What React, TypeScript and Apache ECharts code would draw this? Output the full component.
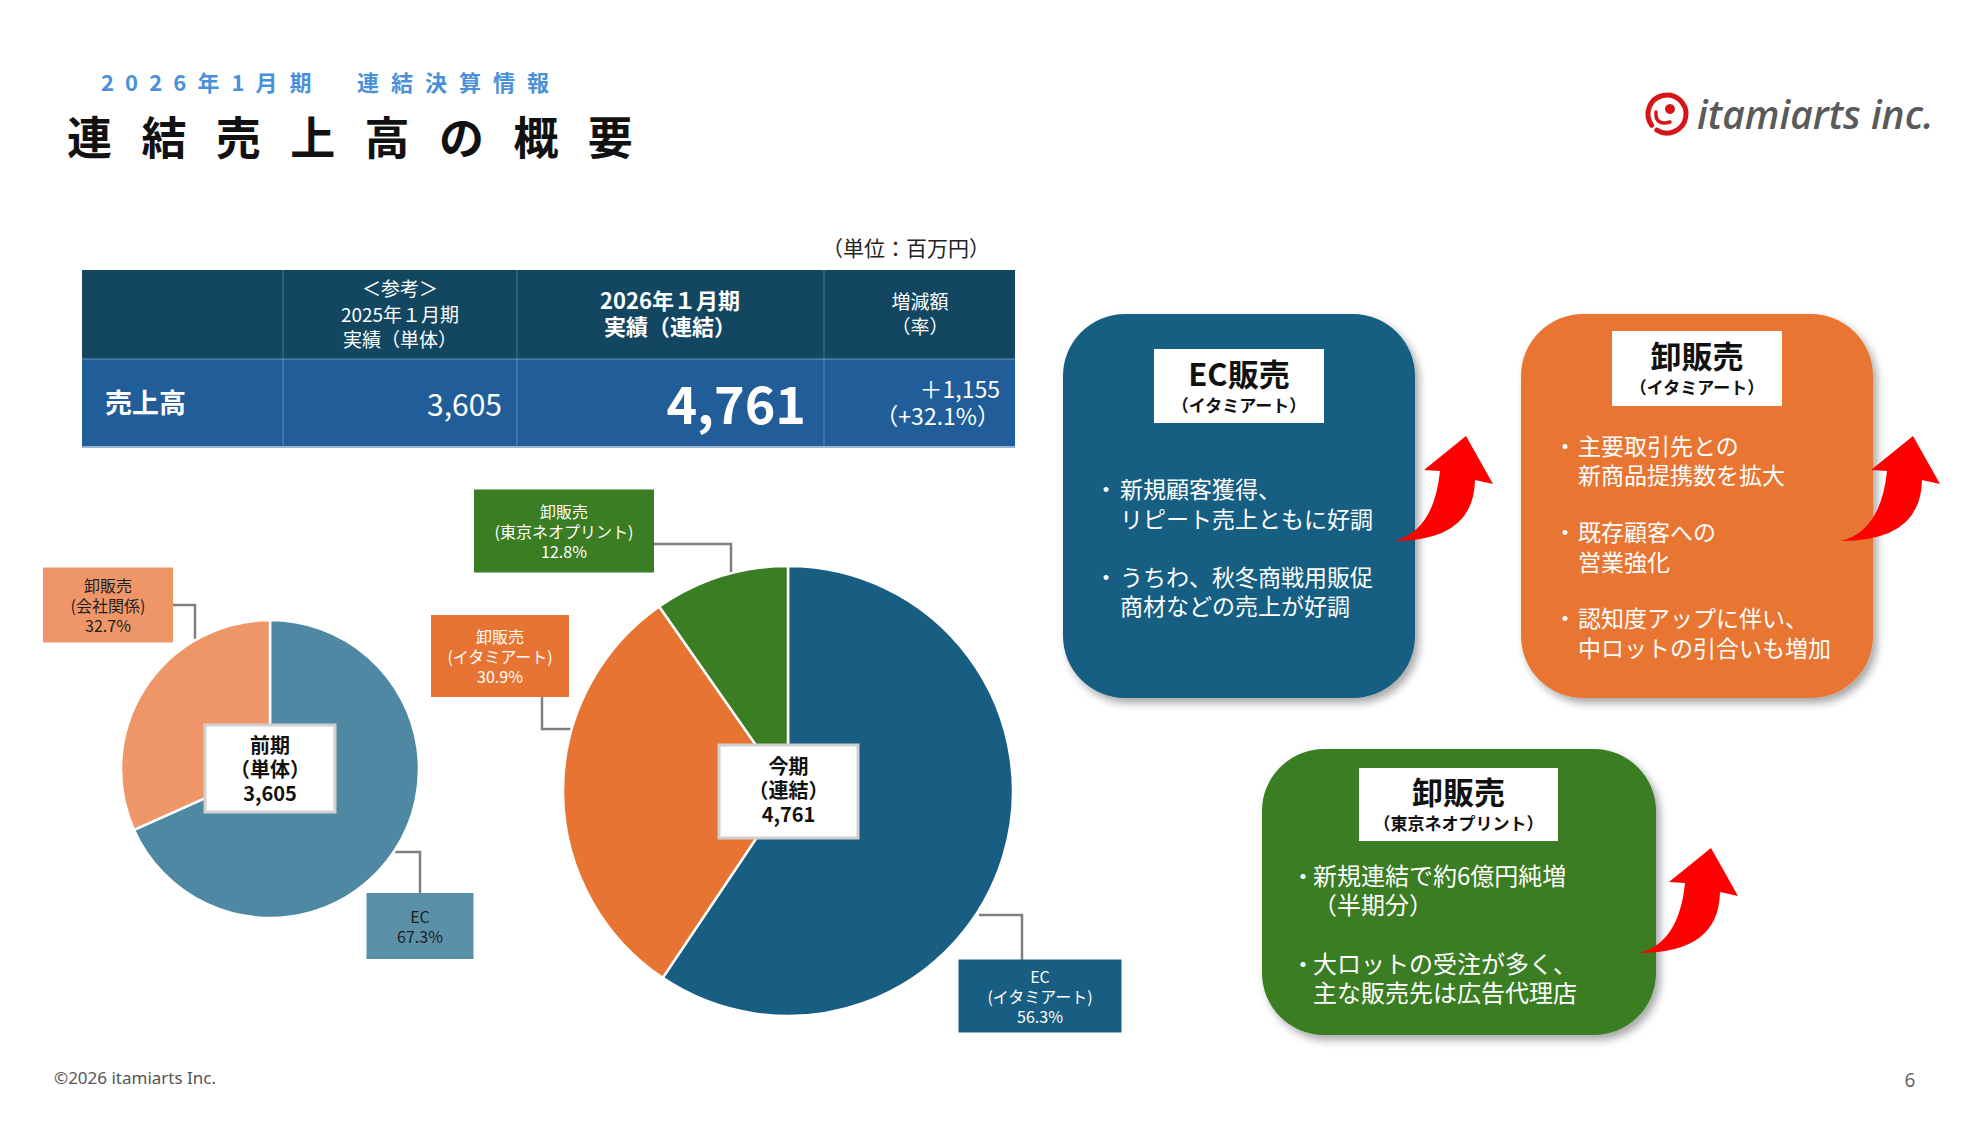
import React, { useEffect, useRef } from 'react';
import * as echarts from 'echarts';

// ---------------- data ----------------
const prevCategories = ['EC', '卸販売(会社関係)'];
// slice sizes as drawn in the picture (degrees)
const prevSliceShares = [68.3, 31.7];
// shares printed on the labels
const prevShareLabels = [67.3, 32.7];
const prevTotal = 3605;
const curCategories = ['EC(イタミアート)', '卸販売(イタミアート)', '卸販売(東京ネオプリント)'];
const curSliceShares = [59.4, 30.9, 9.7];
const curShareLabels = [56.3, 30.9, 12.8];
const curTotal = 4761;
const changeAmount = '＋1,155';
const changeRate = '（+32.1%）';
const prevCenterLabel = ['前期', '（単体）'];
const curCenterLabel = ['今期', '（連結）'];
const headerPrev = ['＜参考＞', '2025年１月期', '実績（単体）'];
const headerCur = ['2026年１月期', '実績（連結）'];
const headerChange = ['増減額', '（率）'];
const rowLabel = '売上高';
const unitLabel = '（単位：百万円）';
const subtitleA = '2026年1月期';
const subtitleB = '連結決算情報';
const titleText = '連結売上高の概要';
const ecCard = { title: 'EC販売', sub: '（イタミアート）', bullets: [['新規顧客獲得、', 'リピート売上ともに好調'], ['うちわ、秋冬商戦用販促', '商材などの売上が好調']] };
const wsCard = { title: '卸販売', sub: '（イタミアート）', bullets: [['主要取引先との', '新商品提携数を拡大'], ['既存顧客への', '営業強化'], ['認知度アップに伴い、', '中ロットの引合いも増加']] };
const tnCard = { title: '卸販売', sub: '（東京ネオプリント）', bullets: [['新規連結で約6億円純増', '（半期分）'], ['大ロットの受注が多く、', '主な販売先は広告代理店']] };
const footerText = '©2026 itamiarts Inc.';
const pageNo = '6';
const logoText = 'itamiarts inc.';

// ---------------- styles / layout ----------------
const JP = '"Noto Sans CJK JP", "Noto Sans", sans-serif';
const prevColors = ['#4F88A2', '#EF9668'];
const prevLabelBg = ['#5B90A9', '#EF9668'];
const prevLabelFg = ['#1E1E1E', '#1E1E1E'];
const curColors = ['#175E82', '#E87433', '#3B7D23'];
const curLabelFg = ['#FFFFFF', '#FFFFFF', '#FFFFFF'];
const prevLabelBoxes = [
  { cx: 420, cy: 926, w: 107, h: 66 },
  { cx: 108, cy: 605, w: 130, h: 75 },
];
const curLabelBoxes = [
  { cx: 1040, cy: 996, w: 163, h: 73 },
  { cx: 500, cy: 656, w: 138, h: 82 },
  { cx: 564, cy: 531, w: 180, h: 83 },
];
const prevLeaders = [
  [[395, 852], [420, 852], [420, 893]],
  [[173, 605], [195, 605], [195, 639]],
];
const curLeaders = [
  [[979, 915], [1022, 915], [1022, 960]],
  [[542, 697], [542, 729], [572, 729]],
  [[654, 544], [731, 544], [731, 573]],
];

const ARROW_PATH = 'M0 105 Q40 95 46 35 L30 34 L72 0 L99 48 L81 44 Q80 105 0 105 Z';
let registered = false;
function ensureShapes() {
  if (registered) return;
  registered = true;
  try {
    echarts.graphic.registerShape('curvedArrow', echarts.graphic.extendPath(ARROW_PATH, {}) as any);
  } catch (e) {
    // ignore
  }
}

function txt(x: number, y: number, text: string, o: any = {}) {
  const align = o.align || 'left';
  const style: any = {
    text,
    fill: o.fill || '#222',
    fontSize: o.size || 16,
    fontWeight: o.weight || 'normal',
    fontFamily: o.family || JP,
    fontStyle: o.fontStyle || 'normal',
    align,
    textAlign: align,
    verticalAlign: 'middle',
    textVerticalAlign: 'middle',
  };
  if (o.lineHeight) style.lineHeight = o.lineHeight;
  if (o.rich) style.rich = o.rich;
  return { type: 'text', x, y, z: o.z ?? 50, silent: true, style };
}

function isAscii(ch: string) {
  return ch.charCodeAt(0) < 128;
}

function spacedText(startX: number, y: number, text: string, size: number, ls: number, o: any) {
  const out: any[] = [];
  let x = startX;
  for (const ch of text) {
    out.push(txt(x, y, ch, { ...o, size }));
    x += (isAscii(ch) ? size * 0.55 : size) + ls;
  }
  return out;
}

function card(x: number, y: number, w: number, h: number, color: string, c: any, tb: any, bl: any) {
  const els: any[] = [];
  els.push({
    type: 'rect',
    z: 5,
    silent: true,
    shape: { x, y, width: w, height: h, r: 62 },
    style: { fill: color, shadowBlur: 8, shadowOffsetX: 4, shadowOffsetY: 5, shadowColor: 'rgba(0,0,0,0.35)' },
  });
  els.push({
    type: 'rect',
    z: 6,
    silent: true,
    shape: { x: tb.x, y: tb.y, width: tb.w, height: tb.h },
    style: { fill: '#FFFFFF' },
  });
  const cx = tb.x + tb.w / 2;
  els.push(
    txt(cx, tb.y + tb.h / 2, '{t|' + c.title + '}\n{s|' + c.sub + '}', {
      align: 'center',
      z: 7,
      fill: '#111',
      rich: {
        t: { fontSize: 31, fontWeight: 'bold', fontFamily: JP, fill: '#111', lineHeight: 36, align: 'center' },
        s: { fontSize: 17, fontWeight: 'bold', fontFamily: JP, fill: '#111', lineHeight: 28, align: 'center' },
      },
    })
  );
  c.bullets.forEach((lines: string[], i: number) => {
    const yMid = bl.ys[i];
    const top = yMid - ((lines.length - 1) * bl.lh) / 2;
    els.push(txt(bl.bx, top, '・', { align: 'center', size: bl.size, fill: '#FFFFFF', z: 7 }));
    els.push(txt(bl.tx, yMid, lines.join('\n'), { size: bl.size, fill: '#FFFFFF', z: 7, lineHeight: bl.lh }));
  });
  return els;
}

function buildOption() {
  const g: any[] = [];

  // ---- titles ----
  g.push(...spacedText(101, 81, subtitleA, 22, 12, { fill: '#4A90D9', weight: 'bold' }));
  g.push(...spacedText(357, 81, subtitleB, 22, 12, { fill: '#4A90D9', weight: 'bold' }));
  g.push(...spacedText(67, 135, titleText, 45, 29.4, { fill: '#111111', weight: 'bold' }));

  // ---- logo ----
  g.push({
    type: 'arc',
    silent: true,
    shape: { cx: 1667, cy: 114, r: 19, startAngle: Math.PI * 0.8, endAngle: Math.PI * 2.68, clockwise: true },
    style: { stroke: '#D7141A', lineWidth: 5, fill: null, lineCap: 'round' },
  });
  g.push({ type: 'circle', silent: true, shape: { cx: 1670, cy: 109, r: 5 }, style: { fill: '#D7141A' } });
  g.push({
    type: 'bezierCurve',
    silent: true,
    shape: { x1: 1656, y1: 112, x2: 1670, y2: 122, cpx1: 1655, cpy1: 126 },
    style: { stroke: '#D7141A', lineWidth: 3.5, fill: null, lineCap: 'round' },
  });
  g.push(txt(1697, 113, logoText, { size: 39, fill: '#5A5A5A', family: '"Open Sans", "Noto Sans", sans-serif', fontStyle: 'italic', weight: '600' }));

  // ---- table ----
  g.push(txt(822, 247, unitLabel, { size: 21, fill: '#222' }));
  g.push({ type: 'rect', silent: true, shape: { x: 82, y: 270, width: 933, height: 89 }, style: { fill: '#134761' } });
  g.push({ type: 'rect', silent: true, shape: { x: 82, y: 359, width: 933, height: 88 }, style: { fill: '#215E99' } });
  [283, 517, 824].forEach((x) => {
    g.push({ type: 'line', silent: true, shape: { x1: x, y1: 270, x2: x, y2: 359 }, style: { stroke: '#4A7790', lineWidth: 1 } });
    g.push({ type: 'line', silent: true, shape: { x1: x, y1: 359, x2: x, y2: 447 }, style: { stroke: '#5A88B8', lineWidth: 1 } });
  });
  g.push({ type: 'line', silent: true, shape: { x1: 82, y1: 359, x2: 1015, y2: 359 }, style: { stroke: '#6A93BB', lineWidth: 1 } });
  g.push({ type: 'line', silent: true, shape: { x1: 82, y1: 447, x2: 1015, y2: 447 }, style: { stroke: '#9DB6CF', lineWidth: 2 } });
  g.push(txt(400, 313, headerPrev.join('\n'), { align: 'center', size: 19, fill: '#FFFFFF', lineHeight: 25.5 }));
  g.push(txt(670, 312, headerCur.join('\n'), { align: 'center', size: 22, weight: 'bold', fill: '#FFFFFF', lineHeight: 26 }));
  g.push(txt(920, 312.5, headerChange.join('\n'), { align: 'center', size: 19, fill: '#FFFFFF', lineHeight: 25 }));
  g.push(txt(105, 401, rowLabel, { size: 27, weight: 'bold', fill: '#FFFFFF' }));
  g.push(txt(502, 403, prevTotal.toLocaleString('en-US'), { align: 'right', size: 30, fill: '#FFFFFF' }));
  g.push(txt(806, 401, curTotal.toLocaleString('en-US'), { align: 'right', size: 52, weight: 'bold', fill: '#FFFFFF' }));
  g.push(txt(1000, 401.5, changeAmount + '\n' + changeRate, { align: 'right', size: 23, fill: '#FFFFFF', lineHeight: 27 }));

  // ---- leader lines ----
  [...prevLeaders, ...curLeaders].forEach((pts) => {
    g.push({ type: 'polyline', z: 1, silent: true, shape: { points: pts }, style: { stroke: '#7F7F7F', lineWidth: 2.5, fill: null } });
  });

  // ---- pie center boxes ----
  const centerBox = (x: number, y: number, w: number, h: number, lines: string[], total: number, yMid: number) => {
    g.push({
      type: 'rect',
      z: 100,
      silent: true,
      shape: { x, y, width: w, height: h },
      style: { fill: '#FFFFFF', stroke: '#D0D0D0', lineWidth: 3 },
    });
    const cx = x + w / 2;
    g.push(txt(cx, yMid, [...lines, total.toLocaleString('en-US')].join('\n'), { align: 'center', size: 20, weight: 'bold', fill: '#111', z: 101, lineHeight: 24 }));
  };
  centerBox(205, 725, 130, 87, prevCenterLabel, prevTotal, 768);
  centerBox(719, 745, 139, 93, curCenterLabel, curTotal, 789);

  // ---- cards ----
  g.push(
    ...card(1063, 314, 352, 384, '#175E82', ecCard,
      { x: 1154, y: 349, w: 170, h: 74 },
      { bx: 1106, tx: 1120, size: 23, lh: 29.5, ys: [503, 590.5] })
  );
  g.push(
    ...card(1521, 314, 352, 384, '#E87433', wsCard,
      { x: 1612, y: 331, w: 170, h: 75 },
      { bx: 1565, tx: 1578, size: 23, lh: 29.5, ys: [459.5, 546, 632] })
  );
  g.push(
    ...card(1262, 749, 394, 286, '#3B7D23', tnCard,
      { x: 1359, y: 768, w: 199, h: 73 },
      { bx: 1303, tx: 1313, size: 24, lh: 29, ys: [888.5, 976.5] })
  );

  // ---- arrows ----
  [[1394, 436], [1841, 436], [1639, 848]].forEach(([x, y]) => {
    g.push({ type: 'curvedArrow', x, y, z: 120, silent: true, style: { fill: '#FF0000' } });
  });

  // ---- footer ----
  g.push(txt(54, 1077, footerText, { size: 17, fill: '#555555', family: '"Noto Sans", "DejaVu Sans", sans-serif' }));
  g.push(txt(1910, 1080, pageNo, { size: 19, fill: '#666666', align: 'center', family: '"Noto Sans", sans-serif' }));

  const lineH = 20;
  const makeData = (cats: string[], vals: number[], shareLabels: number[], colors: string[], bgs: string[], fgs: string[], boxes: any[]) =>
    cats.map((name, i) => {
      const nLines = name.includes('(') ? 3 : 2;
      const padV = Math.max(0, (boxes[i].h - nLines * lineH) / 2);
      return {
        name,
        value: vals[i],
        shareLabel: shareLabels[i],
        itemStyle: { color: colors[i] },
        label: {
          backgroundColor: bgs[i],
          color: fgs[i],
          width: boxes[i].w,
          padding: [padV, 0, padV, 0],
        },
      };
    });

  const pieBase = (center: number[], radius: number, boxes: any[], shareLabels: number[]) => ({
    type: 'pie',
    center,
    radius,
    startAngle: 90,
    clockwise: true,
    silent: true,
    avoidLabelOverlap: false,
    itemStyle: { borderColor: '#FFFFFF', borderWidth: 2.5 },
    label: {
      show: true,
      position: 'outside',
      fontFamily: JP,
      fontSize: 16,
      lineHeight: lineH,
      align: 'center',
      formatter: (p: any) => p.name.replace('(', '\n(') + '\n' + shareLabels[p.dataIndex].toFixed(1) + '%',
    },
    labelLine: { show: false },
    labelLayout: (p: any) => {
      const b = boxes[p.dataIndex];
      return { x: b.cx, y: b.cy, align: 'center', verticalAlign: 'middle' };
    },
    emphasis: { disabled: true },
  });

  return {
    animation: false,
    backgroundColor: '#FFFFFF',
    series: [
      {
        ...pieBase([270, 769], 149, prevLabelBoxes, prevShareLabels),
        data: makeData(prevCategories, prevSliceShares, prevShareLabels, prevColors, prevLabelBg, prevLabelFg, prevLabelBoxes),
      },
      {
        ...pieBase([788, 791], 225, curLabelBoxes, curShareLabels),
        data: makeData(curCategories, curSliceShares, curShareLabels, curColors, curColors, curLabelFg, curLabelBoxes),
      },
    ],
    graphic: { elements: g },
  };
}

export default function App() {
  const ref = useRef<HTMLDivElement>(null);
  useEffect(() => {
    document.body.style.margin = '0';
    document.body.style.overflow = 'hidden';
    ensureShapes();
    if (!ref.current) return;
    const chart = echarts.init(ref.current, undefined, { renderer: 'svg' });
    chart.setOption(buildOption() as any);
    return () => chart.dispose();
  }, []);
  return <div ref={ref} style={{ width: 1984, height: 1133 }} />;
}
